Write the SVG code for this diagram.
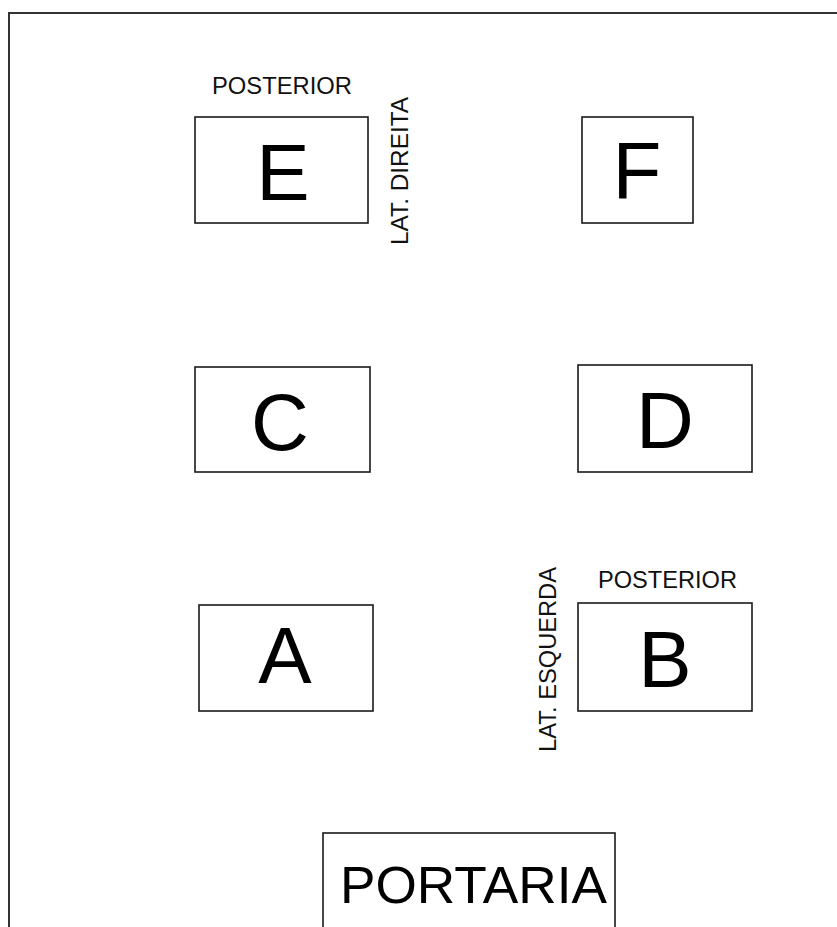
<svg xmlns="http://www.w3.org/2000/svg" width="837" height="927" viewBox="0 0 837 927">
<style>
.box{fill:#fff;stroke:#1a1a1a;stroke-width:1.6}
.big{font-family:"Liberation Sans",Arial,sans-serif;font-size:80px;fill:#000;text-anchor:middle}
.lbl{font-family:"Liberation Sans",Arial,sans-serif;font-size:23px;fill:#111}
</style>
<rect x="0" y="0" width="837" height="927" fill="#fff"/>
<rect id="frame" x="9" y="13" width="840" height="930" fill="none" stroke="#333" stroke-width="2"/>
<g id="E">
<rect class="box" x="195" y="117" width="173" height="106"/>
<text class="big" x="283" y="200">E</text>
<text class="lbl" x="212" y="94" textLength="140" lengthAdjust="spacingAndGlyphs">POSTERIOR</text>
<text class="lbl" transform="translate(408,245) rotate(-90)" textLength="148" lengthAdjust="spacingAndGlyphs">LAT. DIREITA</text>
</g>
<g id="F">
<rect class="box" x="582" y="117" width="111" height="106"/>
<text class="big" x="637" y="198">F</text>
</g>
<g id="C">
<rect class="box" x="195" y="367" width="175" height="105"/>
<text class="big" x="280" y="450">C</text>
</g>
<g id="D">
<rect class="box" x="578" y="365" width="174" height="107"/>
<text class="big" x="665" y="448">D</text>
</g>
<g id="A">
<rect class="box" x="199" y="605" width="174" height="106"/>
<text class="big" x="285" y="683">A</text>
</g>
<g id="B">
<rect class="box" x="578" y="603" width="174" height="108"/>
<text class="big" x="665" y="687">B</text>
<text class="lbl" x="598" y="588" textLength="139" lengthAdjust="spacingAndGlyphs">POSTERIOR</text>
<text class="lbl" transform="translate(556,752) rotate(-90)" textLength="185" lengthAdjust="spacingAndGlyphs">LAT. ESQUERDA</text>
</g>
<g id="PORTARIA">
<rect class="box" x="323" y="833" width="292" height="110"/>
<text x="340" y="903" font-family="Liberation Sans, Arial, sans-serif" font-size="51" fill="#000" textLength="267" lengthAdjust="spacingAndGlyphs">PORTARIA</text>
</g>
<g id="connectors"/>
</svg>
